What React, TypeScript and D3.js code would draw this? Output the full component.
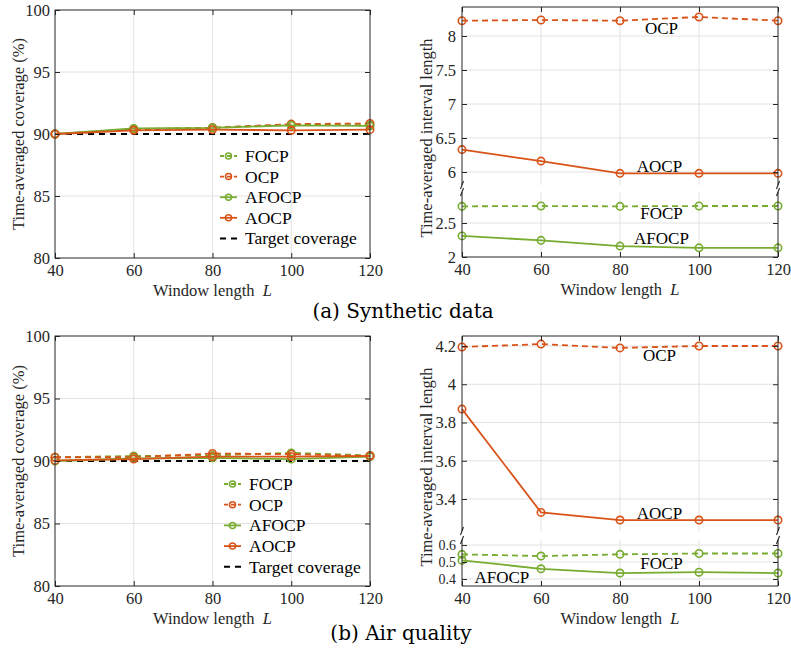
import React, { useEffect, useRef } from "react";
import * as d3 from "d3";

// window lengths on the x axis
const windowLengths = [40, 60, 80, 100, 120];
const methods = ["FOCP", "OCP", "AFOCP", "AOCP"];

// (a) synthetic data - coverage (%)
const synCovFOCP = [90.0, 90.4, 90.5, 90.75, 90.7];
const synCovOCP = [90.0, 90.35, 90.5, 90.8, 90.85];
const synCovAFOCP = [90.0, 90.45, 90.5, 90.7, 90.65];
const synCovAOCP = [90.0, 90.3, 90.35, 90.3, 90.35];

// (a) synthetic data - interval length
const synLenFOCP = [2.745, 2.75, 2.745, 2.75, 2.75];
const synLenOCP = [8.225, 8.235, 8.225, 8.28, 8.225];
const synLenAFOCP = [2.31, 2.245, 2.16, 2.135, 2.135];
const synLenAOCP = [6.33, 6.16, 5.98, 5.98, 5.98];

// (b) air quality - coverage (%)
const airCovFOCP = [90.3, 90.4, 90.45, 90.65, 90.45];
const airCovOCP = [90.3, 90.3, 90.6, 90.55, 90.4];
const airCovAFOCP = [90.0, 90.2, 90.25, 90.15, 90.35];
const airCovAOCP = [90.05, 90.15, 90.35, 90.35, 90.4];

// (b) air quality - interval length
const airLenFOCP = [0.545, 0.535, 0.545, 0.55, 0.55];
const airLenOCP = [4.195, 4.21, 4.19, 4.2, 4.2];
const airLenAFOCP = [0.51, 0.46, 0.435, 0.44, 0.435];
const airLenAOCP = [3.87, 3.33, 3.29, 3.29, 3.29];

const targetCoverage = 90;
const coverageTicks = [80, 85, 90, 95, 100];
const synUpperTicks = [6, 6.5, 7, 7.5, 8];
const synLowerTicks = [2, 2.5];
const airUpperTicks = [3.4, 3.6, 3.8, 4, 4.2];
const airLowerTicks = [0.4, 0.5, 0.6];

const FONT = "'Liberation Serif', 'Times New Roman', serif";
const CAPTION_FONT = "'DejaVu Serif', serif";
const AXIS = "#262626";
const GRID = "#e2e2e2";
const ORANGE = "#D95319";
const GREEN = "#77AC30";
const TICK_SIZE = 16.5;

const styles = {
  FOCP: { color: GREEN, dash: "6,4" },
  OCP: { color: ORANGE, dash: "6,4" },
  AFOCP: { color: GREEN, dash: null },
  AOCP: { color: ORANGE, dash: null },
};

const styleText = (sel, size = TICK_SIZE) =>
  sel.attr("font-family", FONT).attr("font-size", size).attr("fill", AXIS);

const drawSeries = (g, x, y, name, values) => {
  const st = styles[name];
  const pts = values.map((v, i) => [windowLengths[i], v]);
  const line = d3.line().x(d => x(d[0])).y(d => y(d[1]));
  g.append("path")
    .attr("d", line(pts))
    .attr("fill", "none")
    .attr("stroke", st.color)
    .attr("stroke-width", 1.8)
    .attr("stroke-dasharray", st.dash);
  g.selectAll(null)
    .data(pts)
    .join("circle")
    .attr("cx", d => x(d[0]))
    .attr("cy", d => y(d[1]))
    .attr("r", 3.7)
    .attr("fill", "none")
    .attr("stroke", st.color)
    .attr("stroke-width", 1.6);
};

const xAxisLabel = (g, cx, y) => {
  const t = styleText(g.append("text"))
    .attr("x", cx)
    .attr("y", y)
    .attr("text-anchor", "middle");
  t.append("tspan").text("Window length\u00a0\u00a0");
  t.append("tspan").attr("font-style", "italic").text("L");
};

const yAxisLabel = (g, x, cy, label) => {
  styleText(g.append("text"))
    .attr("transform", `translate(${x},${cy}) rotate(-90)`)
    .attr("text-anchor", "middle")
    .text(label);
};

const cleanAxis = (a, size = TICK_SIZE) => {
  a.select(".domain").remove();
  a.selectAll("line").attr("stroke", AXIS);
  styleText(a.selectAll("text"), size);
};

const drawCoverage = (svg, box, series, legend) => {
  const g = svg.append("g");
  const x = d3.scaleLinear().domain([40, 120]).range([box.left, box.right]);
  const y = d3.scaleLinear().domain([80, 100]).range([box.bottom, box.top]);

  // grid
  g.selectAll(null).data(windowLengths.slice(1, -1)).join("line")
    .attr("x1", d => x(d)).attr("x2", d => x(d))
    .attr("y1", box.top).attr("y2", box.bottom)
    .attr("stroke", GRID);
  g.selectAll(null).data(coverageTicks.slice(1, -1)).join("line")
    .attr("x1", box.left).attr("x2", box.right)
    .attr("y1", d => y(d)).attr("y2", d => y(d))
    .attr("stroke", GRID);

  g.append("line")
    .attr("x1", x(40)).attr("x2", x(120))
    .attr("y1", y(targetCoverage)).attr("y2", y(targetCoverage))
    .attr("stroke", "#000").attr("stroke-width", 2).attr("stroke-dasharray", "6,5");

  methods.forEach((m, i) => drawSeries(g, x, y, m, series[i]));

  g.append("rect")
    .attr("x", box.left).attr("y", box.top)
    .attr("width", box.right - box.left).attr("height", box.bottom - box.top)
    .attr("fill", "none").attr("stroke", AXIS);

  g.append("g").attr("transform", `translate(0,${box.bottom})`)
    .call(d3.axisBottom(x).tickValues(windowLengths).tickSize(-5).tickPadding(6).tickFormat(d3.format("d")))
    .call(cleanAxis);
  g.append("g").attr("transform", `translate(0,${box.top})`)
    .call(d3.axisTop(x).tickValues(windowLengths).tickSize(-5).tickFormat(() => ""))
    .call(cleanAxis);
  g.append("g").attr("transform", `translate(${box.left},0)`)
    .call(d3.axisLeft(y).tickValues(coverageTicks).tickSize(-5).tickPadding(5).tickFormat(d3.format("d")))
    .call(cleanAxis);
  g.append("g").attr("transform", `translate(${box.right},0)`)
    .call(d3.axisRight(y).tickValues(coverageTicks).tickSize(-5).tickFormat(() => ""))
    .call(cleanAxis);

  xAxisLabel(g, (box.left + box.right) / 2, box.bottom + 38);
  yAxisLabel(g, box.left - 31, (box.top + box.bottom) / 2, "Time-averaged coverage (%)");

  // legend
  const rows = [...methods, "Target coverage"];
  rows.forEach((name, i) => {
    const ly = legend.y + i * legend.step;
    const st = styles[name];
    const lg = g.append("g");
    lg.append("line")
      .attr("x1", legend.x).attr("x2", legend.x + 17)
      .attr("y1", ly).attr("y2", ly)
      .attr("stroke", st ? st.color : "#000")
      .attr("stroke-width", st ? 1.8 : 2)
      .attr("stroke-dasharray", st ? (st.dash ? "4,3" : null) : "6,5");
    if (st) {
      lg.append("circle")
        .attr("cx", legend.x + 8.5).attr("cy", ly).attr("r", 3)
        .attr("fill", "none").attr("stroke", st.color).attr("stroke-width", 1.5);
    }
    styleText(lg.append("text"), 17.5)
      .attr("x", legend.x + 25).attr("y", ly + 6)
      .attr("fill", "#000")
      .text(name);
  });
};

const drawLength = (svg, box, upper, lower, series, labels) => {
  const g = svg.append("g");
  const x = d3.scaleLinear().domain([40, 120]).range([box.left, box.right]);
  const yU = d3.scaleLinear().domain(upper.domain).range(upper.range);
  const yL = d3.scaleLinear().domain(lower.domain).range(lower.range);
  const segs = [
    { y: yU, top: box.top, bottom: box.breakTop, ticks: upper.ticks },
    { y: yL, top: box.breakBottom, bottom: box.bottom, ticks: lower.ticks },
  ];

  segs.forEach(s => {
    g.selectAll(null).data(windowLengths.slice(1, -1)).join("line")
      .attr("x1", d => x(d)).attr("x2", d => x(d))
      .attr("y1", s.top).attr("y2", s.bottom)
      .attr("stroke", GRID);
    g.selectAll(null).data(s.ticks.filter(t => s.y(t) > s.top + 1 && s.y(t) < s.bottom - 1)).join("line")
      .attr("x1", box.left).attr("x2", box.right)
      .attr("y1", d => s.y(d)).attr("y2", d => s.y(d))
      .attr("stroke", GRID);
  });

  // upper segment: OCP, AOCP ; lower segment: FOCP, AFOCP
  methods.forEach((m, i) => {
    const y = m === "OCP" || m === "AOCP" ? yU : yL;
    drawSeries(g, x, y, m, series[i]);
  });

  // frame
  segs.forEach(s => {
    [box.left, box.right].forEach(xx => {
      g.append("line").attr("x1", xx).attr("x2", xx)
        .attr("y1", s.top).attr("y2", s.bottom).attr("stroke", AXIS);
    });
    // tightly packed ticks get a smaller label so they don't collide
    const gap = Math.abs(s.y(s.ticks[1]) - s.y(s.ticks[0]));
    const size = Math.min(TICK_SIZE, gap * 0.82);
    g.append("g").attr("transform", `translate(${box.left},0)`)
      .call(d3.axisLeft(s.y).tickValues(s.ticks).tickSize(-5).tickPadding(6).tickFormat(d => String(d)))
      .call(a => cleanAxis(a, size));
    g.append("g").attr("transform", `translate(${box.right},0)`)
      .call(d3.axisRight(s.y).tickValues(s.ticks).tickSize(-5).tickFormat(() => ""))
      .call(cleanAxis);
  });
  g.append("line").attr("x1", box.left).attr("x2", box.right)
    .attr("y1", box.top).attr("y2", box.top).attr("stroke", AXIS);
  g.append("line").attr("x1", box.left).attr("x2", box.right)
    .attr("y1", box.bottom).attr("y2", box.bottom).attr("stroke", AXIS);

  // break marks
  [box.left, box.right].forEach(xx => {
    [box.breakTop, box.breakBottom].forEach(yy => {
      g.append("line")
        .attr("x1", xx - 1.5).attr("y1", yy + 4)
        .attr("x2", xx + 1.5).attr("y2", yy - 4)
        .attr("stroke", AXIS).attr("stroke-width", 1.1);
    });
  });

  g.append("g").attr("transform", `translate(0,${box.bottom})`)
    .call(d3.axisBottom(x).tickValues(windowLengths).tickSize(-5).tickPadding(6).tickFormat(d3.format("d")))
    .call(cleanAxis);
  g.append("g").attr("transform", `translate(0,${box.top})`)
    .call(d3.axisTop(x).tickValues(windowLengths).tickSize(-5).tickFormat(() => ""))
    .call(cleanAxis);

  // in-plot method labels
  labels.forEach(l => {
    const y = l.seg === "upper" ? yU : yL;
    styleText(g.append("text"), 17)
      .attr("x", x(l.L)).attr("y", y(l.v))
      .attr("dy", "0.35em")
      .attr("text-anchor", "middle")
      .attr("fill", "#000")
      .text(l.name);
  });

  xAxisLabel(g, (box.left + box.right) / 2, box.bottom + 38);
  yAxisLabel(g, box.left - 30, (box.top + box.bottom) / 2 + 6, "Time-averaged interval length");
};

const App = () => {
  const ref = useRef(null);

  useEffect(() => {
    const svg = d3.select(ref.current);
    svg.selectAll("*").remove();

    drawCoverage(svg, { left: 55, right: 370, top: 10, bottom: 258 },
      [synCovFOCP, synCovOCP, synCovAFOCP, synCovAOCP],
      { x: 220, y: 156, step: 20.6 });

    drawLength(svg, { left: 462, right: 778, top: 7, breakTop: 185, breakBottom: 192, bottom: 257 },
      { domain: [6, 8], range: [172, 36], ticks: synUpperTicks },
      { domain: [2, 2.5], range: [257, 223], ticks: synLowerTicks },
      [synLenFOCP, synLenOCP, synLenAFOCP, synLenAOCP],
      [
        { name: "OCP", L: 90.5, v: 8.12, seg: "upper" },
        { name: "AOCP", L: 90, v: 6.09, seg: "upper" },
        { name: "FOCP", L: 90.5, v: 2.65, seg: "lower" },
        { name: "AFOCP", L: 90.5, v: 2.28, seg: "lower" },
      ]);

    drawCoverage(svg, { left: 55, right: 370, top: 336, bottom: 586 },
      [airCovFOCP, airCovOCP, airCovAFOCP, airCovAOCP],
      { x: 224, y: 484, step: 20.7 });

    drawLength(svg, { left: 462, right: 778, top: 336, breakTop: 531, breakBottom: 540, bottom: 586 },
      { domain: [3.4, 4.2], range: [499, 346], ticks: airUpperTicks },
      { domain: [0.4, 0.6], range: [579, 545], ticks: airLowerTicks },
      [airLenFOCP, airLenOCP, airLenAFOCP, airLenAOCP],
      [
        { name: "OCP", L: 90, v: 4.153, seg: "upper" },
        { name: "AOCP", L: 90, v: 3.327, seg: "upper" },
        { name: "FOCP", L: 90.5, v: 0.494, seg: "lower" },
        { name: "AFOCP", L: 50.1, v: 0.412, seg: "lower" },
      ]);

    // captions
    svg.append("text").attr("x", 403).attr("y", 318)
      .attr("text-anchor", "middle").attr("font-family", CAPTION_FONT).attr("font-size", 20)
      .attr("fill", "#000").text("(a) Synthetic data");
    svg.append("text").attr("x", 401).attr("y", 640)
      .attr("text-anchor", "middle").attr("font-family", CAPTION_FONT).attr("font-size", 20)
      .attr("fill", "#000").text("(b) Air quality");
  }, []);

  return (
    <svg ref={ref} width={791} height={653}
      style={{ position: "absolute", left: 0, top: 0, background: "#fff" }} />
  );
};

export default App;
